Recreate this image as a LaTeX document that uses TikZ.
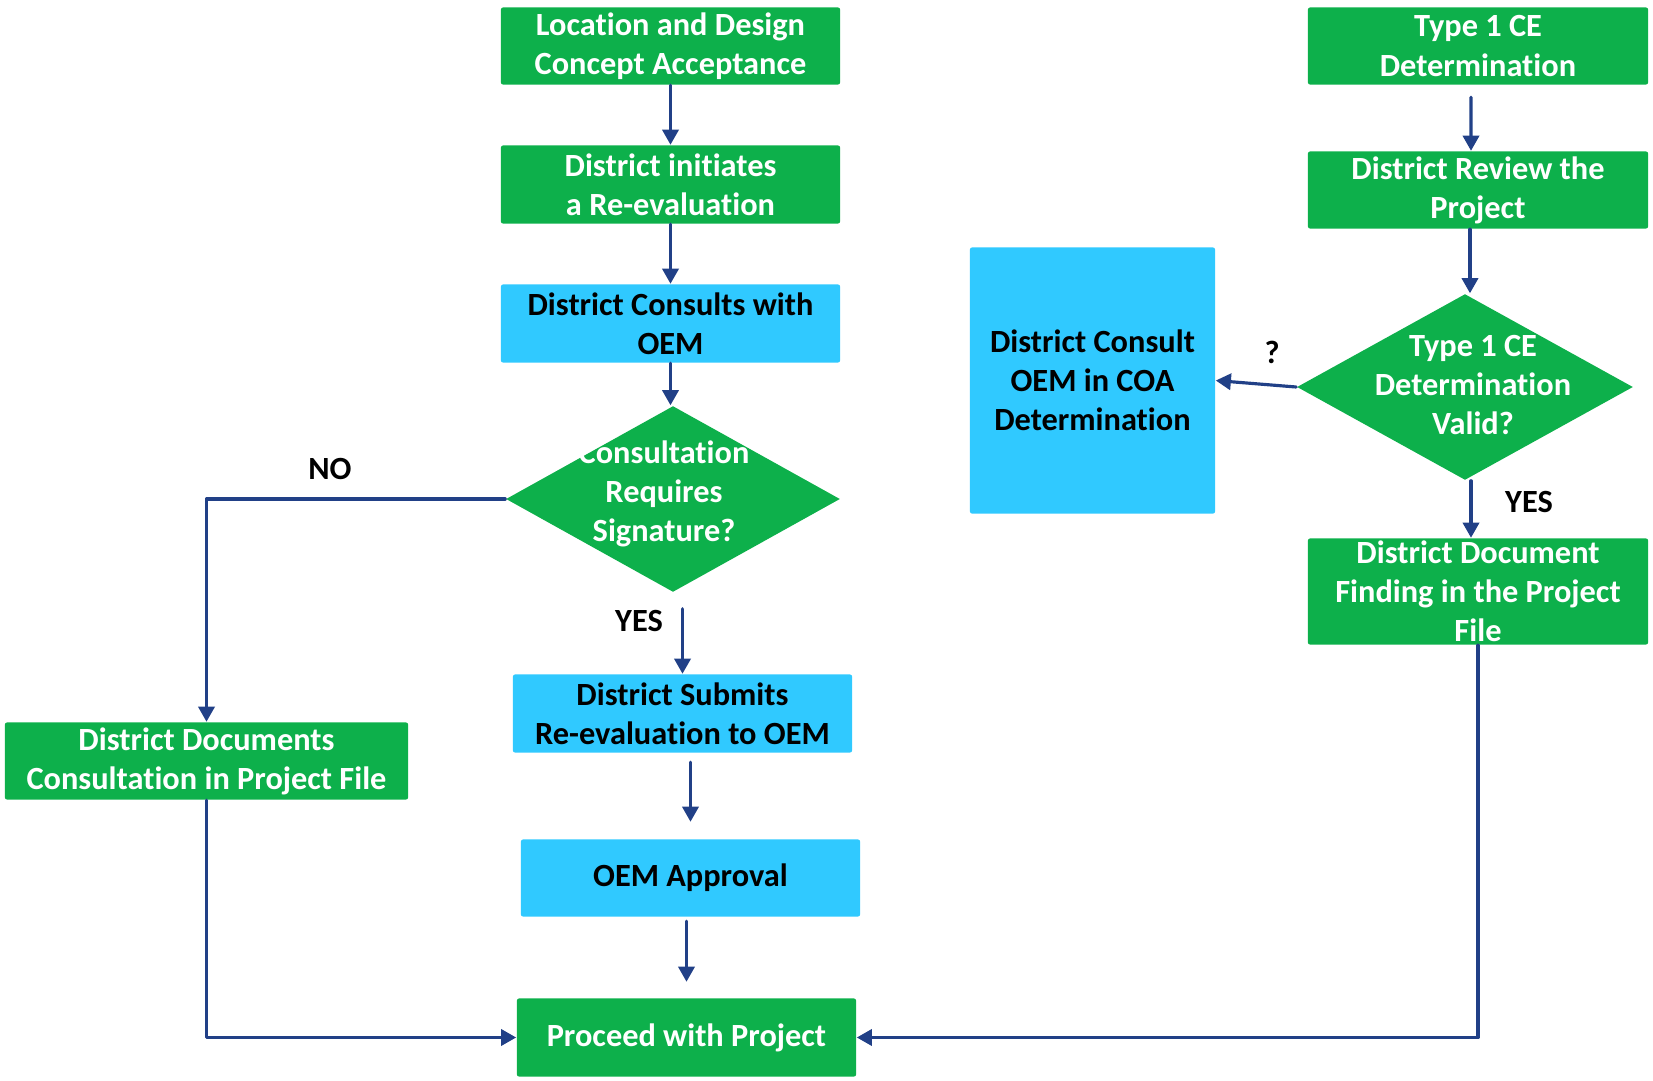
\documentclass[tikz,border=0pt]{standalone}
\usepackage{fontspec}
\setmainfont{Carlito}[RawFeature={-liga;-clig;-calt;-dlig}]
\usetikzlibrary{arrows.meta,shapes.geometric}
\definecolor{boxgreen}{RGB}{13,176,75}
\definecolor{boxblue}{RGB}{48,201,255}
\definecolor{arrowblue}{RGB}{33,64,135}

\begin{document}
\begin{tikzpicture}[line cap=round,line join=round,>={Triangle[length=4.3pt,width=4.6pt]},x=0.01cm,y=-0.01cm,
		txt/.style={font=\fontsize{9.2}{11.1}\selectfont\bfseries,align=center},
		gbox/.style={txt,rectangle,rounded corners=0.6pt,fill=boxgreen,text=white,inner sep=0pt},
		bbox/.style={txt,rectangle,rounded corners=0.6pt,fill=boxblue,text=black,inner sep=0pt},
		gdia/.style={diamond,fill=boxgreen,inner sep=0pt},
		dtext/.style={txt,text=white},
		lbl/.style={txt,text=black},
		arr/.style={->,line width=0.9pt,color=arrowblue}]
			\useasboundingbox (0,0) rectangle (1653,1081);
			% left column
			\node[gbox,minimum width=3.39cm,minimum height=0.77cm] (loc) at (670.5,46) {Location and Design\\Concept Acceptance};
			\node[gbox,minimum width=3.39cm,minimum height=0.78cm] (init) at (670.5,184.5) {District initiates\\a Re-evaluation};
			\node[bbox,minimum width=3.39cm,minimum height=0.78cm] (cons) at (670.5,323.5) {District Consults with\\OEM};
			\node[gdia,minimum width=3.34cm,minimum height=1.86cm] (sig) at (673,499) {};
			\node[dtext] (sigtext) at (664,494) {Consultation\\Requires\\Signature?};
			\node[gbox,minimum width=4.03cm,minimum height=0.77cm] (docs) at (206.5,761) {District Documents\\Consultation in Project File};
			\node[bbox,minimum width=3.39cm,minimum height=0.78cm] (subm) at (682.5,713.5) {District Submits\\Re-evaluation to OEM};
			\node[bbox,minimum width=3.39cm,minimum height=0.77cm] (appr) at (690.5,878) {OEM Approval};
			\node[gbox,minimum width=3.39cm,minimum height=0.78cm] (proc) at (686.5,1037.5) {Proceed with Project};
			% right column
			\node[gbox,minimum width=3.40cm,minimum height=0.77cm] (type) at (1478,46) {Type 1 CE\\Determination};
			\node[gbox,minimum width=3.40cm,minimum height=0.77cm] (rev) at (1478,190) {District Review the\\Project};
			\node[gdia,minimum width=3.36cm,minimum height=1.86cm] (valid) at (1465,387) {};
			\node[dtext] (validtext) at (1473,385) {Type 1 CE\\Determination\\Valid?};
			\node[bbox,minimum width=2.45cm,minimum height=2.66cm] (coa) at (1092.5,380.5) {District Consult\\OEM in COA\\Determination};
			\node[gbox,minimum width=3.40cm,minimum height=1.06cm] (find) at (1478,591.5) {District Document\\Finding in the Project\\File};
			% labels
			\node[lbl] (no) at (330,469) {NO};
			\node[lbl] (yesl) at (639,621) {YES};
			\node[lbl] (qm) at (1272,352) {?};
			\node[lbl] (yesr) at (1529,502) {YES};
			% connectors
			\draw[arr] (loc.south) -- (init.north);
			\draw[arr] (init.south) -- (cons.north);
			\draw[arr] (cons.south) -- (cons.south |- sig.north);
			\draw[arr] (sig.west) -| (docs.north);
			\draw[arr,shorten <=0.16cm] (subm.north |- sig.south) -- (subm.north);
			\draw[arr,shorten <=0.09cm,shorten >=0.17cm] (subm.south -| appr) -- (appr.north);
			\draw[arr,shorten <=0.04cm,shorten >=0.16cm] (appr.south -| proc) -- (proc.north);
			\draw[arr] (docs.south) |- (proc.west);
			\draw[arr] (find.south) |- (proc.east);
			\draw[arr,shorten <=0.12cm] (type.south -| valid.north) ++(6,0) -- ([xshift=0.06cm]rev.north -| valid.north);
			\draw[arr] ([xshift=0.05cm]rev.south -| valid.north) -- ([xshift=0.05cm]valid.north);
			\draw[arr] (valid.west) -- (coa.east);
			\draw[arr] ([xshift=0.06cm]valid.south) -- ([xshift=0.06cm]valid.south |- find.north);
\end{tikzpicture}
\end{document}
